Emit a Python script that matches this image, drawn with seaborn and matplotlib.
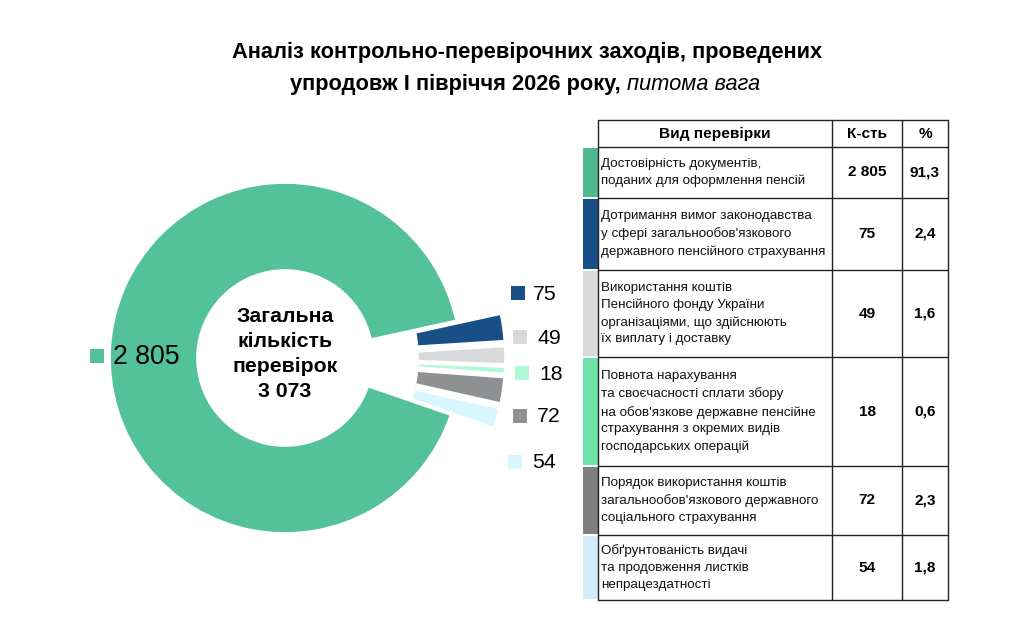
import numpy as np
import matplotlib
matplotlib.use("Agg")
import matplotlib.pyplot as plt
from matplotlib import font_manager
from matplotlib.patches import Rectangle
import seaborn as sns

CATEGORIES = [
    "Достовірність документів,\nподаних для оформлення пенсій",
    "Дотримання вимог законодавства\nу сфері загальнообов'язкового\nдержавного пенсійного страхування",
    "Використання коштів\nПенсійного фонду України\nорганізаціями, що здійснюють\nїх виплату і доставку",
    "Повнота нарахування\nта своєчасності сплати збору\nна обов'язкове державне пенсійне\nстрахування з окремих видів\nгосподарських операцій",
    "Порядок використання коштів\nзагальнообов'язкового державного\nсоціального страхування",
    "Обґрунтованість видачі\nта продовження листків\nнепрацездатності",
]
COUNTS = [2805, 75, 49, 18, 72, 54]
PERCENTS = [91.3, 2.4, 1.6, 0.6, 2.3, 1.8]

PIE_COLORS = ["#53C29A", "#174F86", "#D9D9DB", "#AFFAD6", "#8F9092", "#D7F6FD"]
STRIP_COLORS = ["#4FB88F", "#174F86", "#D9D9DB", "#6EE4A9", "#7F7F7F", "#D3ECF8"]

sns.set_theme(style="white")
names = {f.name for f in font_manager.fontManager.ttflist}
NARROW = "Liberation Sans Narrow" in names
FONT = "Liberation Sans Narrow" if NARROW else "Liberation Sans"
plt.rcParams["font.family"] = [FONT, "DejaVu Sans"]
plt.rcParams["text.color"] = "black"

# regular-width font needs smaller sizes to keep the narrow widths
k = 1.0 if NARROW else 0.85

W, H = 1024, 642


def fmt_num(v):
    return f"{v:,}".replace(",", " ")


def Y(y):
    return H - y


fig = plt.figure(figsize=(W / 100, H / 100), dpi=100)
ax = fig.add_axes([0, 0, 1, 1])

# donut
cx, cy, r = 285, 358, 175
ax.pie(
    COUNTS,
    colors=PIE_COLORS,
    center=(cx, Y(cy)),
    radius=r,
    startangle=-19,
    counterclock=False,
    explode=[0, 45, 45, 45, 45, 45],
    wedgeprops=dict(width=87, edgecolor="white", linewidth=1.2),
)
ax.set_xlim(0, W)
ax.set_ylim(0, H)
ax.set_aspect("equal")
ax.axis("off")

ax.text(cx, Y(354), "Загальна\nкількість\nперевірок\n" + fmt_num(sum(COUNTS)),
        ha="center", va="center", fontsize=18 * k, fontweight="bold",
        linespacing=1.2 / k)

# value labels
label_pos = [(97, 356, 113, 22.5), (518, 293, 533, 18), (520, 337, 537, 18),
             (522, 373, 539, 18), (520, 416, 537, 18), (515, 462, 532, 18)]
for (sx, sy, tx, fs), val, col in zip(label_pos, COUNTS, PIE_COLORS):
    ax.add_patch(Rectangle((sx - 7, Y(sy) - 7), 14, 14, color=col, lw=0))
    ax.text(tx, Y(sy) - 1, fmt_num(val), ha="left", va="center", fontsize=fs * k)

# title
title_fs = 18.5 * k
ax.text(527, Y(52), "Аналіз контрольно-перевірочних заходів, проведених",
        ha="center", va="center", fontsize=title_fs, fontweight="bold")
t1 = ax.text(0, Y(84), "упродовж І півріччя 2026 року,", ha="left", va="center",
             fontsize=title_fs, fontweight="bold")
t2 = ax.text(0, Y(84), "питома вага", ha="left", va="center",
             fontsize=title_fs, fontstyle="italic")
renderer = fig.canvas.get_renderer()
w1 = t1.get_window_extent(renderer).width
w2 = t2.get_window_extent(renderer).width
gap = 7
x0 = 525 - (w1 + gap + w2) / 2
t1.set_x(x0)
t2.set_x(x0 + w1 + gap)

# table
col_x = [598, 832, 902, 948]
row_y = [120, 147, 198, 270, 357, 466, 535, 600]
line_kw = dict(color="#222222", lw=1.0)

for x in col_x:
    ax.plot([x, x], [Y(row_y[0]), Y(row_y[-1])], **line_kw)
for y in row_y:
    ax.plot([col_x[0], col_x[-1]], [Y(y), Y(y)], **line_kw)

head_fs = 13 * k
hy = (row_y[0] + row_y[1]) / 2
for (xa, xb), head in zip(zip(col_x[:-1], col_x[1:]), ["Вид перевірки", "К-сть", "%"]):
    ax.text((xa + xb) / 2, Y(hy), head, ha="center", va="center",
            fontsize=head_fs, fontweight="bold")

body_fs = 11.3 * k
for i, (cat, cnt, pct, col) in enumerate(zip(CATEGORIES, COUNTS, PERCENTS, STRIP_COLORS)):
    top, bot = row_y[i + 1], row_y[i + 2]
    mid = (top + bot) / 2
    ax.add_patch(Rectangle((583, Y(bot) + 1), col_x[0] - 583, bot - top - 2, color=col, lw=0))
    ax.text(col_x[0] + 3, Y(mid), cat, ha="left", va="center", fontsize=body_fs,
            linespacing=1.3 / k, color="#111111")
    ax.text((col_x[1] + col_x[2]) / 2, Y(mid), fmt_num(cnt), ha="center", va="center",
            fontsize=13 * k, fontweight="bold")
    ax.text((col_x[2] + col_x[3]) / 2, Y(mid), f"{pct:.1f}".replace(".", ","),
            ha="center", va="center", fontsize=13 * k, fontweight="bold")

fig.savefig("out.png", dpi=100, facecolor="white")
plt.close(fig)
